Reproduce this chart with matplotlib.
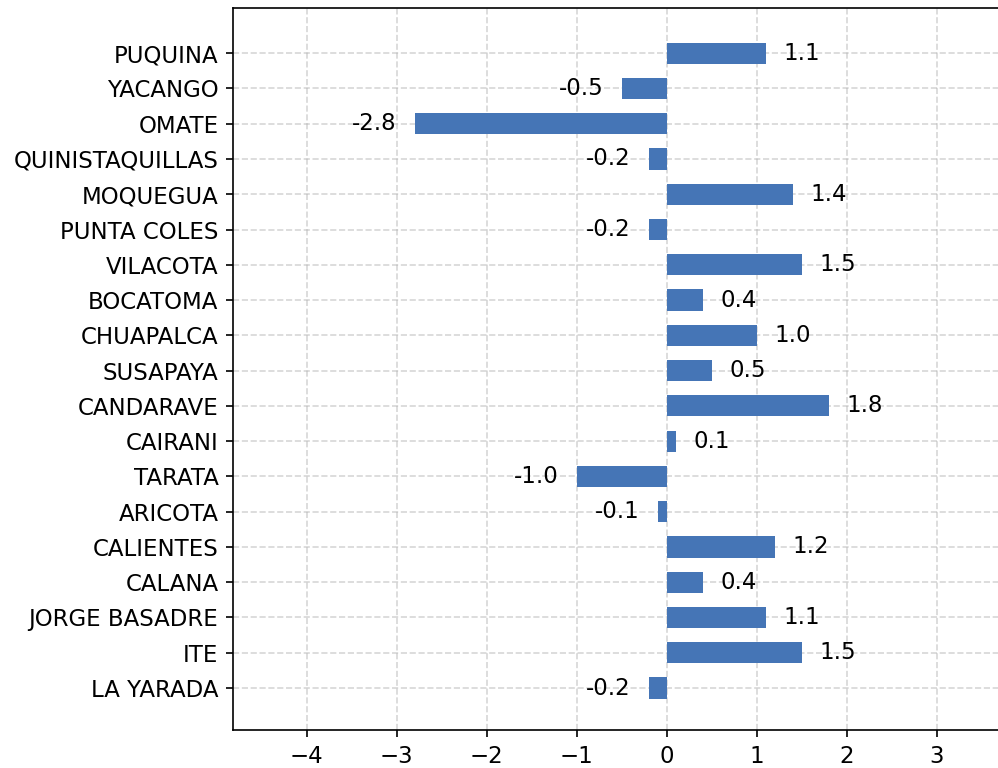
import matplotlib
matplotlib.use("Agg")
import matplotlib.pyplot as plt
import numpy as np

# stations from bottom to top, with their values
stations = ["LA YARADA", "ITE", "JORGE BASADRE", "CALANA", "CALIENTES",
            "ARICOTA", "TARATA", "CAIRANI", "CANDARAVE", "SUSAPAYA",
            "CHUAPALCA", "BOCATOMA", "VILACOTA", "PUNTA COLES", "MOQUEGUA",
            "QUINISTAQUILLAS", "OMATE", "YACANGO", "PUQUINA"]
values = [-0.2, 1.5, 1.1, 0.4, 1.2,
          -0.1, -1.0, 0.1, 1.8, 0.5,
          1.0, 0.4, 1.5, -0.2, 1.4,
          -0.2, -2.8, -0.5, 1.1]
xticks = [-4, -3, -2, -1, 0, 1, 2, 3]

dpi = 150
fig = plt.figure(figsize=(998 / dpi, 768 / dpi), dpi=dpi)
ax = fig.add_axes([233 / 998, 38 / 768, 867.6 / 998, 722 / 768])

y = np.arange(len(stations))
ax.barh(y, values, height=0.6, color="#4575b6", zorder=3)

for yi, v in zip(y, values):
    if v >= 0:
        ax.text(v + 0.2, yi, f"{v:.1f}", va="center", ha="left", fontsize=11)
    else:
        ax.text(v - 0.2, yi, f"{v:.1f}", va="center", ha="right", fontsize=11)

ax.set_yticks(y)
ax.set_yticklabels(stations, fontsize=11)
ax.set_xticks(xticks)
ax.tick_params(axis="x", labelsize=11)
ax.set_xlim(-4.82, 4.82)
ax.set_ylim(-1.19, 19.28)
ax.grid(True, linestyle="--", alpha=0.5, zorder=0)
ax.set_axisbelow(True)

fig.savefig("out.png", dpi=dpi)
